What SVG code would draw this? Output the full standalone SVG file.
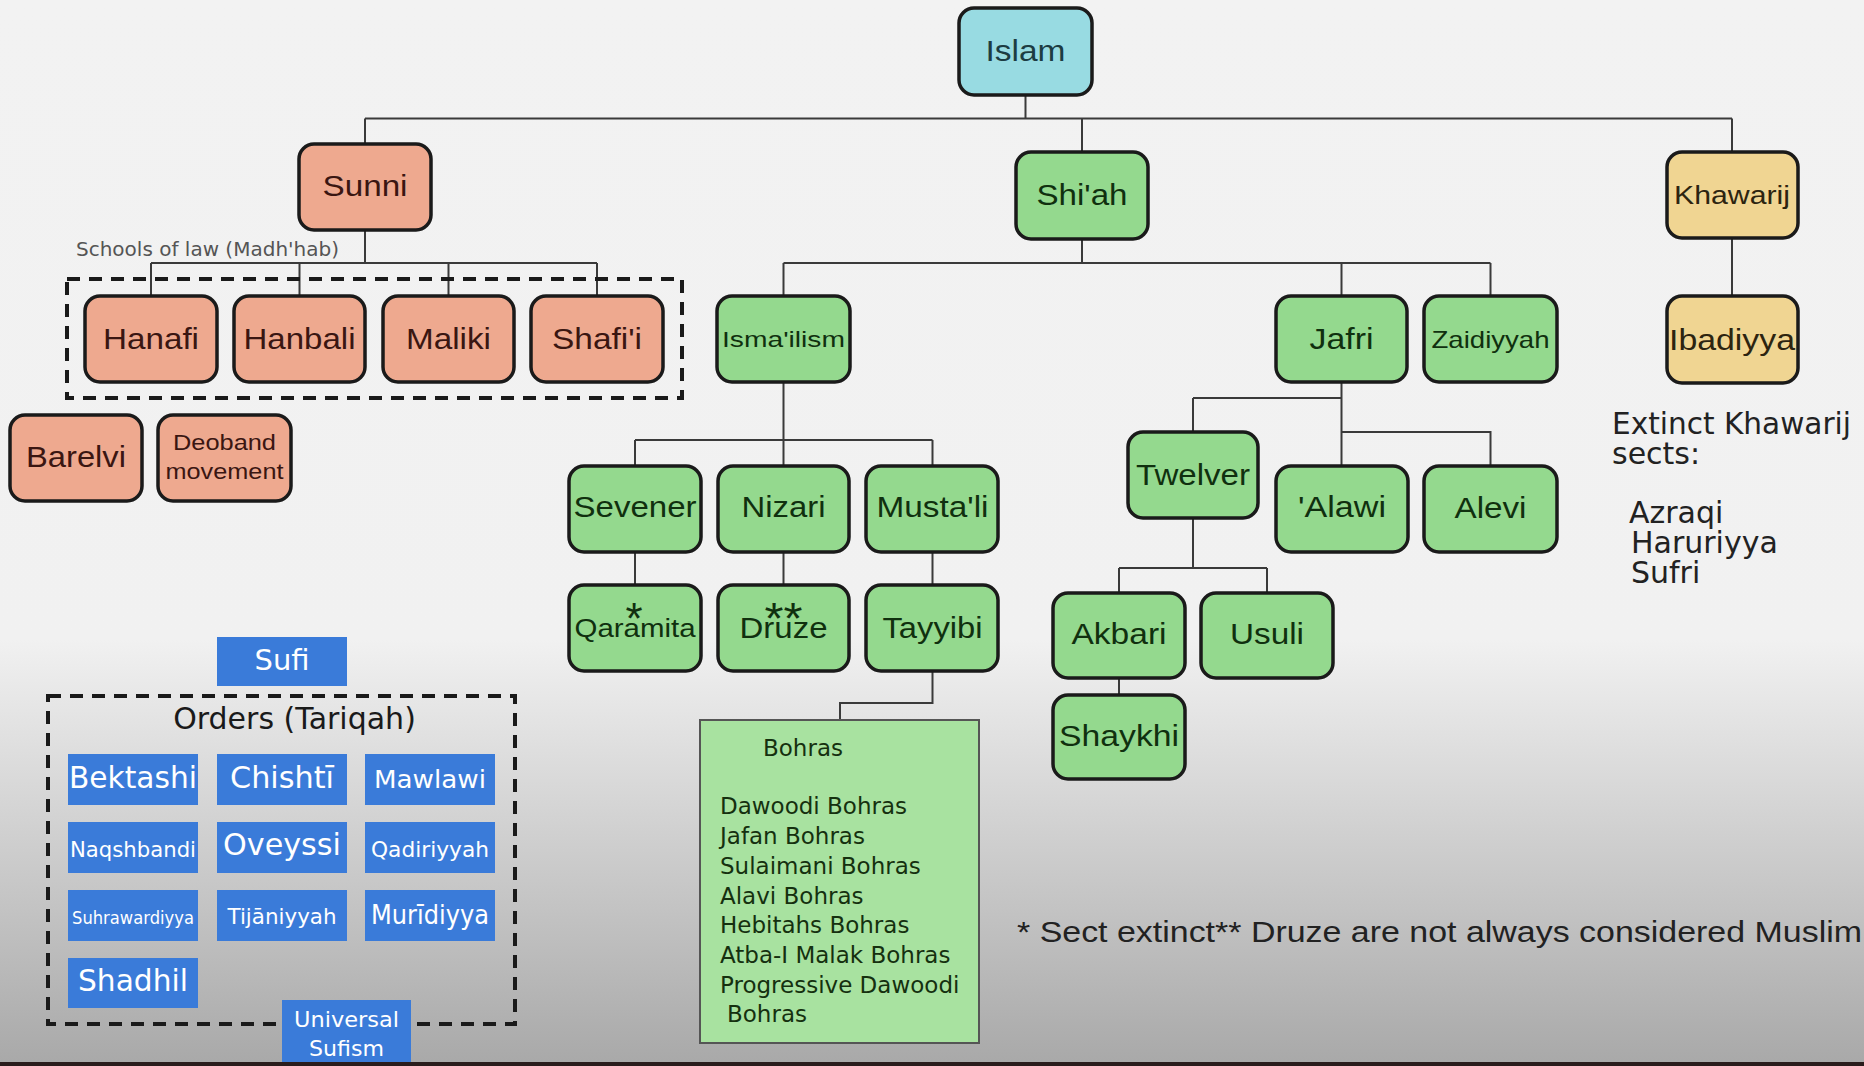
<svg xmlns="http://www.w3.org/2000/svg" width="1864" height="1066" viewBox="0 0 1864 1066">
<defs>
<linearGradient id="bg" x1="0" y1="0" x2="0" y2="1066" gradientUnits="userSpaceOnUse">
<stop offset="0" stop-color="#f2f2f2"/>
<stop offset="0.6" stop-color="#f1f1f1"/>
<stop offset="0.996" stop-color="#a9a9a9"/>
</linearGradient>
<style>
.n rect{stroke:#1a1a1a;stroke-width:3.5}
.sun rect{fill:#eea98f}
.grn rect{fill:#94d98e}
.isl rect{fill:#98dbe2}
.kh rect{fill:#f0d592}
.n text{text-anchor:middle;font-family:"Liberation Sans",Arial,sans-serif;font-size:30px}
.sun text{fill:#3a1612}
.grn text{fill:#10300f}
.isl text{fill:#1c3c42}
.kh text{fill:#2c2410}
.dj{font-family:"DejaVu Sans",sans-serif}
.c path{fill:none;stroke:#3a3a3a;stroke-width:2}
.dash{fill:none;stroke:#1a1a1a;stroke-width:4;stroke-dasharray:13 9}
.b rect{fill:#3a7bd9}
.b text{fill:#ffffff;text-anchor:middle;font-family:"DejaVu Sans",sans-serif}
.note{font-family:"DejaVu Sans",sans-serif;fill:#222}
</style>
</defs>
<rect x="0" y="0" width="1864" height="1066" fill="url(#bg)"/>
<rect x="0" y="1062" width="1864" height="4" fill="#2a1c1c"/>

<g id="connectors" class="c">
<path d="M1025.5 95V118.5M365 118.5H1732M365 118.5V144M1082 118.5V152M1732 118.5V152"/>
<path d="M365 230V263M151 263H597M151 263V296M299.5 263V296M448.5 263V296M597 263V296"/>
<path d="M1082 239V263M783.5 263H1490.5M783.5 263V296M1341.5 263V296M1490.5 263V296"/>
<path d="M1732 238V296"/>
<path d="M783.5 382V466M635 440H932.5M635 440V466M932.5 440V466"/>
<path d="M635 552V585M783.5 552V585M932.5 552V585"/>
<path d="M932.5 671V703H840V720"/>
<path d="M1341.5 382V466M1193 398H1341.5M1193 398V432M1341.5 432H1490.5V466"/>
<path d="M1193 518V568M1119 568H1267M1119 568V593M1267 568V593M1119 678V695"/>
</g>

<rect class="dash" x="67" y="279" width="615" height="119"/>
<text x="76" y="256" class="note" font-size="20" style="fill:#555" textLength="263" lengthAdjust="spacingAndGlyphs">Schools of law (Madh'hab)</text>

<g id="islam" class="n isl"><rect x="959" y="8" width="133" height="87" rx="15"/><text x="1025.5" y="61" textLength="80" lengthAdjust="spacingAndGlyphs">Islam</text></g>
<g id="sunni" class="n sun"><rect x="299" y="144" width="132" height="86" rx="15"/><text x="365" y="196" textLength="85" lengthAdjust="spacingAndGlyphs">Sunni</text></g>
<g id="shiah" class="n grn"><rect x="1016" y="152" width="132" height="87" rx="15"/><text x="1082" y="205" textLength="91" lengthAdjust="spacingAndGlyphs">Shi'ah</text></g>
<g id="khawarij" class="n kh"><rect x="1667" y="152" width="131" height="86" rx="15"/><text x="1732" y="204" class="dj" style="font-size:26px" textLength="116" lengthAdjust="spacingAndGlyphs">Khawarij</text></g>

<g id="hanafi" class="n sun"><rect x="85" y="296" width="132" height="86" rx="15"/><text x="151" y="349" textLength="96" lengthAdjust="spacingAndGlyphs">Hanafi</text></g>
<g id="hanbali" class="n sun"><rect x="234" y="296" width="131" height="86" rx="15"/><text x="299.5" y="349" textLength="112" lengthAdjust="spacingAndGlyphs">Hanbali</text></g>
<g id="maliki" class="n sun"><rect x="383" y="296" width="131" height="86" rx="15"/><text x="448.5" y="349" textLength="85" lengthAdjust="spacingAndGlyphs">Maliki</text></g>
<g id="shafii" class="n sun"><rect x="531" y="296" width="132" height="86" rx="15"/><text x="597" y="349" textLength="90" lengthAdjust="spacingAndGlyphs">Shafi'i</text></g>

<g id="ismailism" class="n grn"><rect x="717" y="296" width="133" height="86" rx="15"/><text x="783.5" y="347" style="font-size:22px" textLength="123" lengthAdjust="spacingAndGlyphs">Isma'ilism</text></g>
<g id="jafri" class="n grn"><rect x="1276" y="296" width="131" height="86" rx="15"/><text x="1341.5" y="349" textLength="64" lengthAdjust="spacingAndGlyphs">Jafri</text></g>
<g id="zaidiyyah" class="n grn"><rect x="1424" y="296" width="133" height="86" rx="15"/><text x="1490.5" y="348" class="dj" style="font-size:24px" textLength="118" lengthAdjust="spacingAndGlyphs">Zaidiyyah</text></g>
<g id="ibadiyya" class="n kh"><rect x="1667" y="296" width="131" height="87" rx="15"/><text x="1732" y="350" class="dj" textLength="126" lengthAdjust="spacingAndGlyphs">Ibadiyya</text></g>

<g id="barelvi" class="n sun"><rect x="10" y="415" width="132" height="86" rx="15"/><text x="76" y="467" class="dj" style="font-size:29px" textLength="100" lengthAdjust="spacingAndGlyphs">Barelvi</text></g>
<g id="deoband" class="n sun"><rect x="158" y="415" width="133" height="86" rx="15"/><text x="224.5" y="450" class="dj" style="font-size:22px" textLength="103" lengthAdjust="spacingAndGlyphs">Deoband</text><text x="224.5" y="479" class="dj" style="font-size:22px" textLength="118" lengthAdjust="spacingAndGlyphs">movement</text></g>

<g id="twelver" class="n grn"><rect x="1128" y="432" width="130" height="86" rx="15"/><text x="1193" y="485" textLength="114" lengthAdjust="spacingAndGlyphs">Twelver</text></g>
<g id="sevener" class="n grn"><rect x="569" y="466" width="132" height="86" rx="15"/><text x="635" y="517" class="dj" textLength="123" lengthAdjust="spacingAndGlyphs">Sevener</text></g>
<g id="nizari" class="n grn"><rect x="718" y="466" width="131" height="86" rx="15"/><text x="783.5" y="517" class="dj" textLength="84" lengthAdjust="spacingAndGlyphs">Nizari</text></g>
<g id="mustali" class="n grn"><rect x="866" y="466" width="132" height="86" rx="15"/><text x="932.5" y="517" class="dj" textLength="112" lengthAdjust="spacingAndGlyphs">Musta'li</text></g>
<g id="alawi" class="n grn"><rect x="1276" y="466" width="132" height="86" rx="15"/><text x="1342" y="517" textLength="88" lengthAdjust="spacingAndGlyphs">'Alawi</text></g>
<g id="alevi" class="n grn"><rect x="1424" y="466" width="133" height="86" rx="15"/><text x="1490.5" y="518" class="dj" textLength="72" lengthAdjust="spacingAndGlyphs">Alevi</text></g>

<g id="qaramita" class="n grn"><rect x="569" y="585" width="132" height="86" rx="15"/><text x="635" y="637" class="dj" style="font-size:26px" textLength="121" lengthAdjust="spacingAndGlyphs">Qaramita</text><text x="634" y="634" class="dj" style="font-size:44px">*</text></g>
<g id="druze" class="n grn"><rect x="718" y="585" width="131" height="86" rx="15"/><text x="783.5" y="638" class="dj" textLength="88" lengthAdjust="spacingAndGlyphs">Druze</text><text x="783.5" y="634" class="dj" style="font-size:44px" textLength="38" lengthAdjust="spacingAndGlyphs">**</text></g>
<g id="tayyibi" class="n grn"><rect x="866" y="585" width="132" height="86" rx="15"/><text x="932.5" y="638" class="dj" textLength="100" lengthAdjust="spacingAndGlyphs">Tayyibi</text></g>

<g id="akbari" class="n grn"><rect x="1053" y="593" width="132" height="85" rx="15"/><text x="1119" y="644" textLength="95" lengthAdjust="spacingAndGlyphs">Akbari</text></g>
<g id="usuli" class="n grn"><rect x="1201" y="593" width="132" height="85" rx="15"/><text x="1267" y="644" textLength="74" lengthAdjust="spacingAndGlyphs">Usuli</text></g>
<g id="shaykhi" class="n grn"><rect x="1053" y="695" width="132" height="84" rx="15"/><text x="1119" y="746" textLength="120" lengthAdjust="spacingAndGlyphs">Shaykhi</text></g>

<g id="bohras">
<rect x="700" y="720" width="279" height="323" fill="#a8e2a0" stroke="#555" stroke-width="2"/>
<g class="note" font-size="23" style="fill:#15300f">
<text x="763" y="756">Bohras</text>
<text x="720" y="814">Dawoodi Bohras</text>
<text x="720" y="844">Jafan Bohras</text>
<text x="720" y="874">Sulaimani Bohras</text>
<text x="720" y="904">Alavi Bohras</text>
<text x="720" y="933">Hebitahs Bohras</text>
<text x="720" y="963">Atba-I Malak Bohras</text>
<text x="720" y="993">Progressive Dawoodi</text>
<text x="727" y="1022">Bohras</text>
</g>
</g>

<g id="extinct" class="note" font-size="30">
<text x="1612" y="434" textLength="239" lengthAdjust="spacingAndGlyphs">Extinct Khawarij</text>
<text x="1612" y="464">sects:</text>
<text x="1629" y="523">Azraqi</text>
<text x="1631" y="553">Haruriyya</text>
<text x="1631" y="583">Sufri</text>
</g>

<text id="footnote" x="1017" y="942" font-family="Liberation Sans, Arial, sans-serif" font-size="29" fill="#222" textLength="845" lengthAdjust="spacingAndGlyphs">* Sect extinct** Druze are not always considered Muslim</text>

<g id="sufi" class="b"><rect x="217" y="637" width="130" height="49"/><text x="282" y="670" font-size="29">Sufi</text></g>
<rect class="dash" x="48" y="696" width="467" height="328"/>
<text x="294.5" y="729" class="note" font-size="30" text-anchor="middle" style="fill:#1a1a1a">Orders (Tariqah)</text>

<g id="bektashi" class="b"><rect x="68" y="754" width="130" height="51"/><text x="133" y="788" font-size="30" textLength="128" lengthAdjust="spacingAndGlyphs">Bektashi</text></g>
<g id="chishti" class="b"><rect x="217" y="754" width="130" height="51"/><text x="282" y="788" font-size="30" textLength="104" lengthAdjust="spacingAndGlyphs">Chishtī</text></g>
<g id="mawlawi" class="b"><rect x="365" y="754" width="130" height="51"/><text x="430" y="788" font-size="25" textLength="112" lengthAdjust="spacingAndGlyphs">Mawlawi</text></g>
<g id="naqshbandi" class="b"><rect x="68" y="822" width="130" height="51"/><text x="133" y="857" font-size="21" textLength="126" lengthAdjust="spacingAndGlyphs">Naqshbandi</text></g>
<g id="oveyssi" class="b"><rect x="217" y="822" width="130" height="51"/><text x="282" y="855" font-size="30" textLength="118" lengthAdjust="spacingAndGlyphs">Oveyssi</text></g>
<g id="qadiriyyah" class="b"><rect x="365" y="822" width="130" height="51"/><text x="430" y="857" font-size="22" textLength="118" lengthAdjust="spacingAndGlyphs">Qadiriyyah</text></g>
<g id="suhrawardiyya" class="b"><rect x="68" y="890" width="130" height="51"/><text x="133" y="924" font-size="18" textLength="122" lengthAdjust="spacingAndGlyphs">Suhrawardiyya</text></g>
<g id="tijaniyyah" class="b"><rect x="217" y="890" width="130" height="51"/><text x="282" y="924" font-size="22" textLength="109" lengthAdjust="spacingAndGlyphs">Tijāniyyah</text></g>
<g id="muridiyya" class="b"><rect x="365" y="890" width="130" height="51"/><text x="430" y="924" font-size="26" textLength="118" lengthAdjust="spacingAndGlyphs">Murīdiyya</text></g>
<g id="shadhil" class="b"><rect x="68" y="958" width="130" height="50"/><text x="133" y="991" font-size="30" textLength="110" lengthAdjust="spacingAndGlyphs">Shadhil</text></g>
<g id="universal" class="b"><rect x="282" y="1000" width="129" height="62"/><text x="346.5" y="1027" font-size="22" textLength="105" lengthAdjust="spacingAndGlyphs">Universal</text><text x="346.5" y="1056" font-size="22" textLength="75" lengthAdjust="spacingAndGlyphs">Sufism</text></g>
</svg>
